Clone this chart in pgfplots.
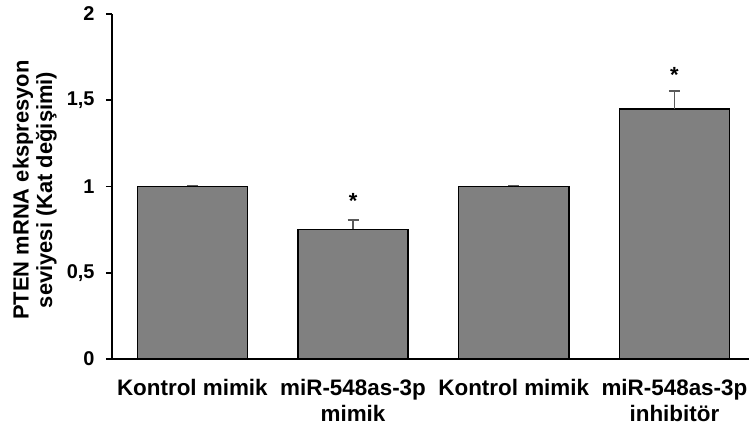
\documentclass[border=0pt]{standalone}
\usepackage{fontspec}
\setmainfont{Liberation Sans}
\usepackage{pgfplots}
\pgfplotsset{compat=1.18}
\definecolor{barfill}{HTML}{808080}
\definecolor{errc}{HTML}{5A5A5A}
\begin{document}
\begin{tikzpicture}
\path[use as bounding box] (-112bp,-69bp) rectangle (637bp,359bp);
\begin{axis}[
  at={(0,0)}, anchor=south west,
  scale only axis,
  width=637bp, height=345bp,
  xmin=-0.5, xmax=3.464,
  ymin=0, ymax=2,
  enlargelimits=false,
  axis x line*=bottom,
  axis y line*=left,
  axis line style={black, line width=1.5bp},
  xtick={0,1,2,3},
  xticklabels={Kontrol mimik,{miR-548as-3p\\mimik},Kontrol mimik,{miR-548as-3p\\inhibitör}},
  xtick style={draw=none},
  xticklabel style={align=center, font=\bfseries\fontsize{22.5}{26}\selectfont, yshift=-11bp},
  ytick={0,0.5,1,1.5,2},
  ytick style={black, line width=1.5bp},
  tick align=outside,
  major tick length=6bp,
  yticklabel style={font=\bfseries\fontsize{20}{24}\selectfont, xshift=-8bp},
  /pgf/number format/.cd, use comma, fixed, assume math mode=true,
  /pgfplots/.cd,
  ylabel={PTEN mRNA ekspresyon\\seviyesi (Kat değişimi)},
  ylabel style={align=center, font=\bfseries\fontsize{22}{23.5}\selectfont, at={(axis description cs:-0.0812,0.49)}, anchor=south},
  clip=false,
]
\addplot[ybar, bar width=0.685, fill=barfill, draw=black, line width=1.5bp,
  error bars/.cd, y dir=plus, y explicit,
  error bar style={errc, line width=1.8bp},
  error mark options={rotate=90, mark size=5.5bp, line width=1.8bp, errc}]
  coordinates {(0,1.0) +- (0,0.006) (1,0.751) +- (0,0.053) (2,1.0) +- (0,0.006) (3,1.449) +- (0,0.104)};
\addplot[draw=none, mark=none, nodes near coords, point meta=explicit symbolic,
  every node near coord/.append style={anchor=base, font=\bfseries\fontsize{22}{24}\selectfont, inner sep=0pt}]
  coordinates {(1,0.87)[*] (3,1.605)[*]};
\end{axis}
\end{tikzpicture}
\end{document}
